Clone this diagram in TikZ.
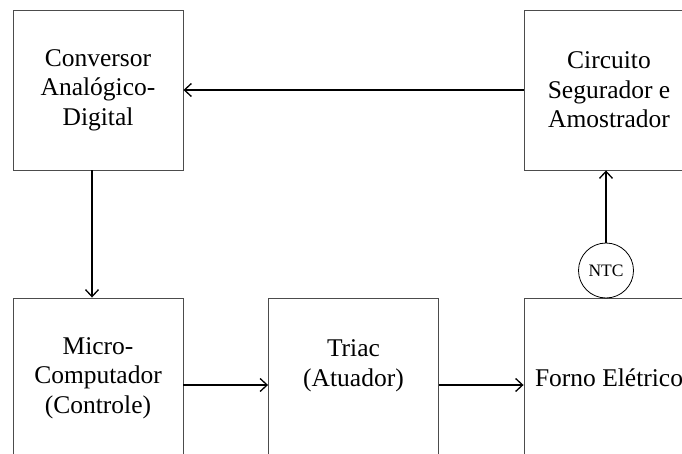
\documentclass[tikz,border=0pt]{standalone}
\usepackage{fontspec}
\setmainfont{Liberation Serif}
\usetikzlibrary{arrows.meta}
\begin{document}
\begin{tikzpicture}[x=1pt,y=-1pt,
  block/.style={draw=black!70,line width=0.9pt,minimum width=170pt,minimum height=160pt,
    inner sep=0pt,align=center,font=\fontsize{25.5}{29.5}\selectfont},
  flow/.style={line width=1.5pt,-{Straight Barb[length=7pt,width=13pt,line width=1.3pt]}},
  sensor/.style={draw=black,line width=0.8pt,circle,minimum size=55pt,inner sep=0pt,
    font=\fontsize{17.5}{20}\selectfont}]
\useasboundingbox (0,0) rectangle (682,454);
\clip (0,0) rectangle (682,454);
% upper row
\node[block] (adc) at (98,90) {Conversor\\Analógico-\\Digital};
\node[block] (sh) at (609,90) {Circuito\\Segurador e\\Amostrador};
% lower row
\node[block] (mcu) at (98,378) {Micro-\\Computador\\(Controle)};
\node[block] (triac) at (353.5,378) {Triac\\(Atuador)\\~};
\node[block] (oven) at (609,378) {Forno Elétrico};
% temperature sensor on the oven
\node[sensor] (ntc) at (606,270.5) {NTC};
% signal path
\coordinate (down) at (92,0);
\coordinate (row) at (0,385);
\draw[flow] (sh.west) -- (adc.east);
\draw[flow] (adc.south -| down) -- (mcu.north -| down);
\draw[flow] (mcu.east |- row) -- (triac.west |- row);
\draw[flow] (triac.east |- row) -- (oven.west |- row);
\draw[flow] (ntc.north) -- (ntc.north |- sh.south);
\end{tikzpicture}
\end{document}
